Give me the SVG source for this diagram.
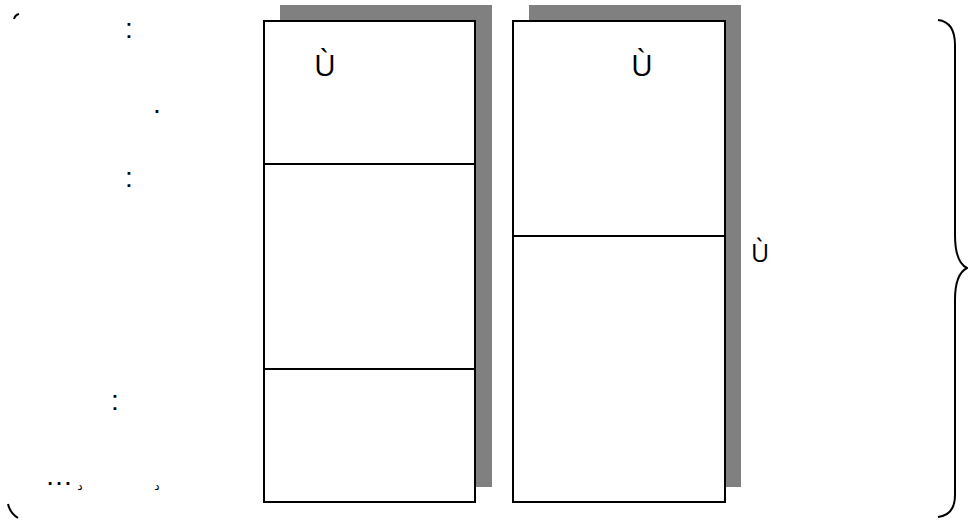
<svg xmlns="http://www.w3.org/2000/svg" width="968" height="532" viewBox="0 0 968 532">
<style>
.shadow{fill:#808080;stroke:none}
.box{fill:#fff;stroke:#000;stroke-width:2}
.div{stroke:#000;stroke-width:2;fill:none}
.t{font-family:"Liberation Sans",Arial,sans-serif;font-size:28px;fill:#000;text-anchor:middle}
.u{font-family:"Open Sans","Liberation Sans",sans-serif;font-size:30px;fill:#000;text-anchor:middle}
.s{font-family:"Liberation Sans","DejaVu Sans",sans-serif;font-size:12px;fill:#000;text-anchor:middle}
.br{fill:none;stroke:#000;stroke-width:2}
</style>
<rect width="968" height="532" fill="#fff"/>
<g id="leftText">
<text class="t" x="129" y="37.5">:</text>
<text class="t" x="157" y="112.5">.</text>
<text class="t" x="129" y="186.5">:</text>
<text class="t" x="115" y="409.5">:</text>
<text class="t" x="59" y="484.5">…</text>
<text class="s" x="80" y="490">د</text>
<text class="s" x="157" y="490">د</text>
</g>
<g id="leftBracket">
<path class="br" d="M14,19 Q15,15 19,14"/>
<path class="br" d="M8,504 Q10,513 18,518"/>
</g>
<g id="boxA">
<rect class="shadow" x="280" y="5" width="212" height="482"/>
<rect class="box" x="264" y="21" width="211" height="481"/>
<line class="div" x1="264" y1="164" x2="475" y2="164"/>
<line class="div" x1="264" y1="369" x2="475" y2="369"/>
<text class="u" x="325" y="76">Ù</text>
</g>
<g id="boxB">
<rect class="shadow" x="529" y="5" width="212" height="482"/>
<rect class="box" x="513" y="21" width="212" height="481"/>
<line class="div" x1="513" y1="236" x2="726" y2="236"/>
<text class="u" x="642" y="76">Ù</text>
</g>
<g id="labelRight">
<text class="u" x="760" y="262" style="font-size:25px">Ù</text>
</g>
<g id="brace">
<path class="br" d="M938,20 Q955,22 955,45 L955,235 Q955,262 967,268 Q955,274 955,300 L955,495 Q955,515 938,517"/>
</g>
</svg>
